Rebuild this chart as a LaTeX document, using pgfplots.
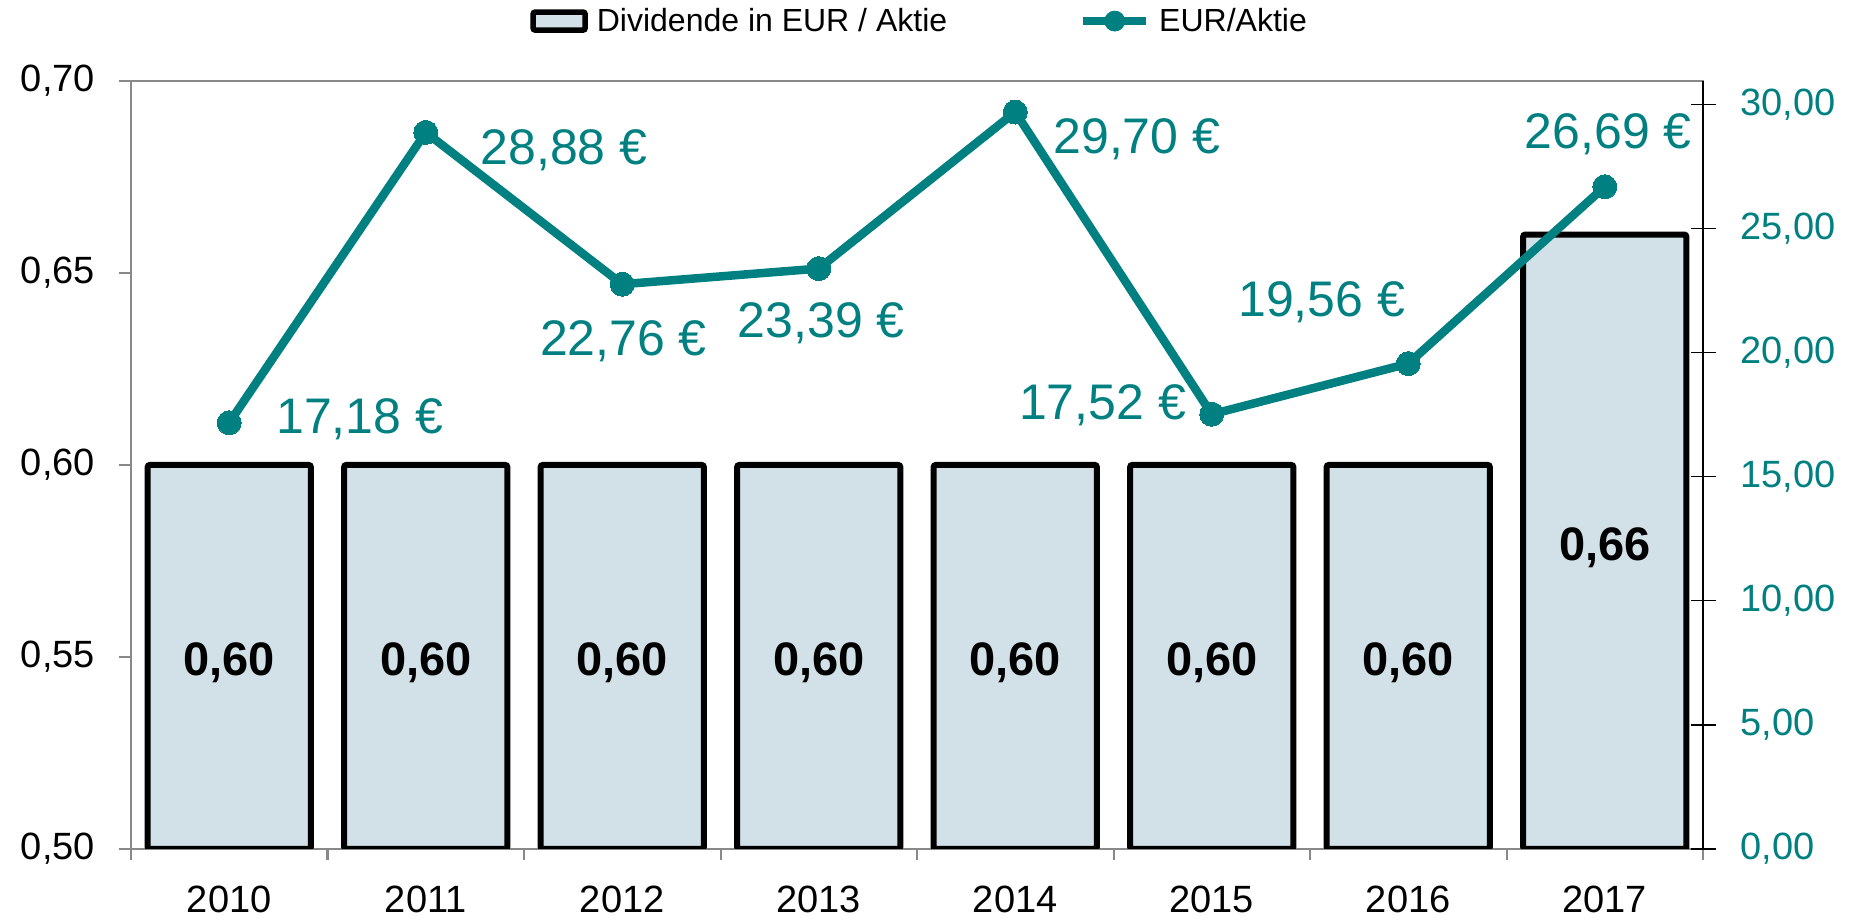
\documentclass[border=0pt]{standalone}
\usepackage{fontspec}
\setmainfont{Liberation Sans}
\usepackage{pgfplots}
\pgfplotsset{compat=1.18}
\usepackage{pgfplotstable}
\definecolor{teal1}{RGB}{0,128,128}
\definecolor{barfill}{RGB}{210,224,231}
\definecolor{axgray}{RGB}{137,137,137}

\pgfplotstableread{
x y
0 0.60
1 0.60
2 0.60
3 0.60
4 0.60
5 0.60
6 0.60
7 0.66
}\bardata

\pgfplotstableread{
x y dx dy
0 17.18 65.2 1.8
1 28.88 69.1 -8.9
2 22.76 0.6 -28.5
3 23.39 1.2 -27.3
4 29.70 60.8 -13.6
5 17.52 -54.6 4.7
6 19.56 -43.3 30.8
7 26.69 1.8 26.1
}\linedata

\begin{document}
\begin{tikzpicture}
\path[use as bounding box] (-65.5pt,-35.5pt) rectangle (864.5pt,424.5pt);
\begin{axis}[
  at={(0,0)}, anchor=south west,
  width=786pt, height=384pt, scale only axis,
  xmin=-0.5, xmax=7.5, ymin=0.5, ymax=0.7,
  axis line style={draw=axgray, line width=1pt},
  xtick={0,...,7}, xticklabels={2010,2011,2012,2013,2014,2015,2016,2017},
  major x tick style={draw=none},
  minor xtick={-0.5,0.5,...,7.5},
  minor x tick style={draw=axgray, line width=1pt},
  minor tick length=5.5pt,
  xtick pos=bottom, ytick pos=left, tick align=outside,
  ytick={0.5,0.55,0.6,0.65,0.7},
  major tick length=6pt,
  y tick style={draw=axgray, line width=1pt},
  yticklabel style={xshift=-8.5pt, /pgf/number format/.cd, fixed, fixed zerofill, precision=2, use comma},
  xticklabel style={yshift=-9pt},
  /pgf/number format/assume math mode=true,
  tick label style={font=\fontsize{19}{22}\selectfont, text=black},
  legend columns=2,
  legend style={at={(0.2538,1.078)}, anchor=west, draw=none, fill=none,
    inner sep=0pt, font=\fontsize{16}{19}\selectfont,
    column sep=2.5pt, /tikz/every even column/.append style={column sep=64pt}},
]
\addplot[ybar, bar width=0.83, bar shift=0pt, fill=barfill, draw=black,
  line width=3pt, rounded corners=1pt, forget plot,
  visualization depends on={rawy \as \rawy},
  nodes near coords={\pgfmathprintnumber[fixed,fixed zerofill,precision=2,use comma]{\pgfplotspointmeta}},
  every node near coord/.append style={font=\fontsize{23.5}{26}\selectfont\bfseries,
    anchor=center, text=black, yshift={-(\rawy-0.5)*960-3}},
] table[x=x, y=y] {\bardata};
\addlegendimage{legend image code/.code={\draw[fill=barfill, draw=black, line width=2.75pt, rounded corners=1pt] (0pt,-4.5pt) rectangle (26pt,4.5pt);}}
\addlegendentry{Dividende in EUR / Aktie}
\addlegendimage{legend image code/.code={\draw[teal1, line width=4pt] (0pt,0pt) -- (31.5pt,0pt); \fill[teal1] (15.75pt,0pt) circle (5pt);}}
\addlegendentry{EUR/Aktie}
\end{axis}
\begin{axis}[
  at={(0,0)}, anchor=south west,
  width=786pt, height=384pt, scale only axis,
  xmin=-0.5, xmax=7.5, ymin=0, ymax=30.95,
  axis x line=none, axis y line*=right,
  y axis line style={-, draw=black, line width=0.6pt},
  ytick={0,5,10,15,20,25,30},
  ytick align=center,
  major tick length=12.5pt,
  y tick style={draw=black, line width=0.6pt},
  yticklabel style={xshift=9pt, text=teal1, font=\fontsize{19}{22}\selectfont,
    /pgf/number format/.cd, fixed, fixed zerofill, precision=2, use comma},
  /pgf/number format/assume math mode=true,
  clip=false,
]
\addplot[teal1, line width=4.25pt, mark=*, mark size=6pt,
  mark options={solid, fill=teal1, draw=teal1, line width=0pt},
  visualization depends on={\thisrow{dx} \as \labdx},
  visualization depends on={\thisrow{dy} \as \labdy},
  nodes near coords={\pgfmathprintnumber[fixed,fixed zerofill,precision=2,use comma]{\pgfplotspointmeta}~€},
  every node near coord/.append style={font=\fontsize{25}{28}\selectfont,
    anchor=center, text=teal1, xshift={\labdx*1pt}, yshift={\labdy*1pt}}
] table[x=x, y=y] {\linedata};
\end{axis}
\end{tikzpicture}
\end{document}
